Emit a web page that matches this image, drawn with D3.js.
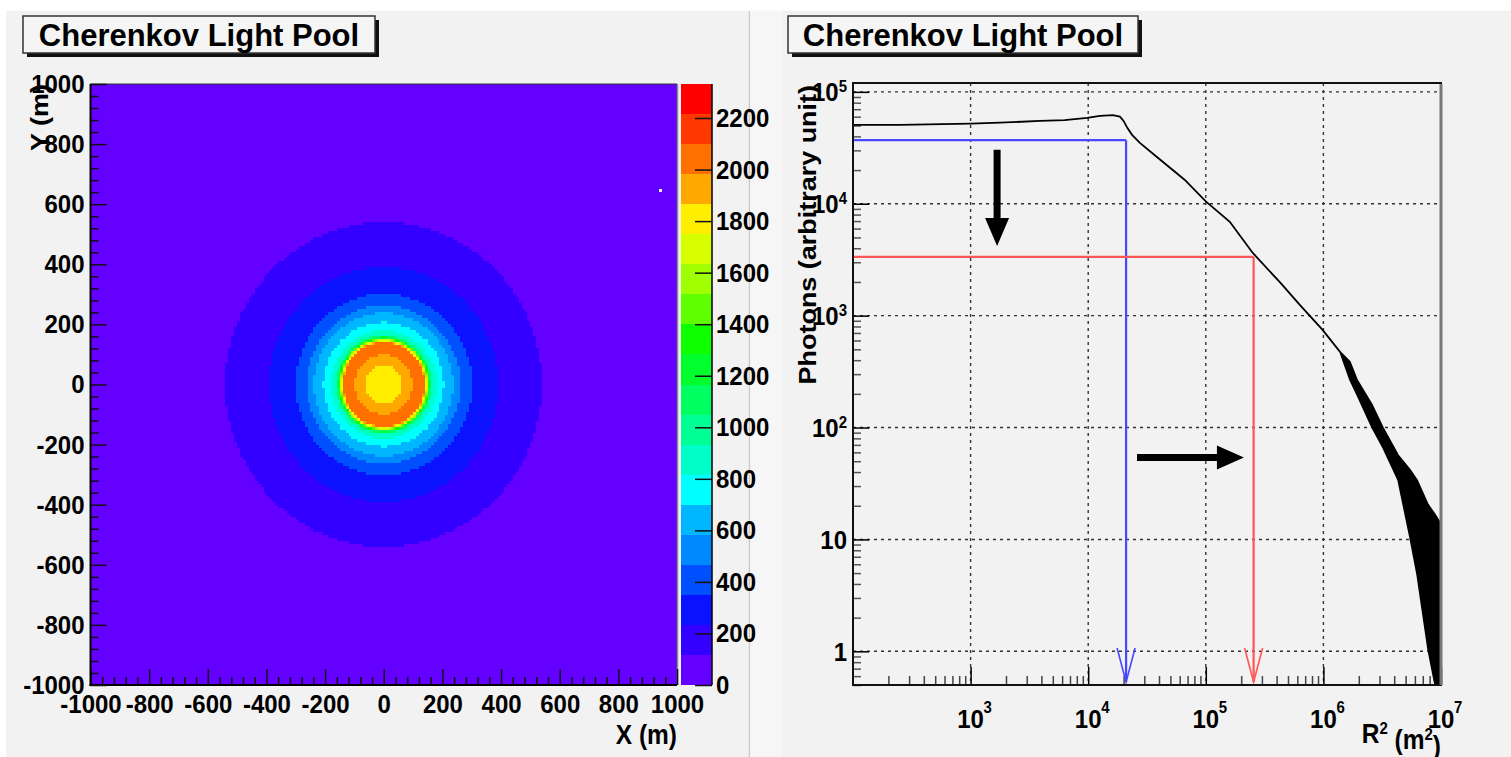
<!DOCTYPE html>
<html>
<head>
<meta charset="utf-8">
<script src="https://cdn.jsdelivr.net/npm/d3@7"></script>
<style>
  html, body { margin: 0; padding: 0; background: #fff; }
  svg text { font-family: "Liberation Sans", Arial, Helvetica, sans-serif; font-weight: bold; fill: #000; }
</style>
</head>
<body>
<svg id="chart" width="1511" height="757"></svg>
<script>
// ---------------- data ----------------
// Radial profile of the photon map (counts per 10 m x 10 m bin vs. distance from core, m)
const mapRadius = [0, 40, 80, 100, 120, 135, 142, 150, 157, 165, 185, 205, 235, 260, 300, 390, 455, 540, 650, 800, 1000, 1420];
const mapCounts = [1800, 1820, 1900, 2000, 2080, 2050, 1850, 1450, 1100, 900, 780, 700, 590, 470, 350, 233, 170, 116, 70, 45, 30, 15];
// Bins with no photons (x, y in m)
const emptyBinX = [945];
const emptyBinY = [645];
// Colour-scale contours
const zMax = 2332;
const zLevels = 20;
const zTicks = [0, 200, 400, 600, 800, 1000, 1200, 1400, 1600, 1800, 2000, 2200];
const xyTicks = [-1000, -800, -600, -400, -200, 0, 200, 400, 600, 800, 1000];

// Photon density vs. R^2 (smooth part)
const curveR2 = [100, 251, 1000, 1780, 3900, 6300, 9800, 12600, 16200, 18600, 20000, 21500, 23600, 27500, 41000, 66000, 100000, 160000, 250000, 430000, 630000, 980000, 1380000];
const curveP  = [50700, 50700, 52000, 53000, 55000, 56000, 58600, 61000, 62000, 60000, 55000, 47700, 41300, 35000, 24700, 16400, 10500, 6900, 3650, 1970, 1250, 750, 477];
// Fluctuating tail: lower / upper envelope
const tailR2 = [1380000, 1680000, 1930000, 2590000, 3210000, 4310000, 5450000, 6250000, 7760000, 8900000, 9800000];
const tailHi = [477, 388, 268, 160, 100, 57, 42, 34, 20.5, 16.7, 14.2];
const tailLo = [477, 268, 197, 100, 66, 34, 10.4, 4.9, 1.04, 0.5, 0.5];
// Reference levels (R^2, photons): core edge and pool edge
const markerR2 = [21000, 255000];
const markerP = [37000, 3350];
// Annotation arrows
const downArrowR2 = 1680, downArrowP = [30400, 4200];
const rightArrowP = 54, rightArrowR2 = [26000, 211000];
const decadesX = [1e3, 1e4, 1e5, 1e6, 1e7];
const decadesY = [1, 10, 100, 1e3, 1e4, 1e5];

// ---------------- drawing ----------------
const W = 1511, H = 757;
const svg = d3.select("#chart");
const FONT_TICK = "24px", FONT_TITLE = "24.5px", FONT_EXP = "15px";
const STRETCH = 1.1;   // glyphs are drawn slightly tall

svg.append("rect").attr("width", W).attr("height", H).attr("fill", "#fff");
svg.append("rect").attr("x", 6).attr("y", 10).attr("width", 743).attr("height", H - 10).attr("fill", "#f2f2f2");
svg.append("rect").attr("x", 751).attr("y", 10).attr("width", W - 751).attr("height", H - 10).attr("fill", "#f2f2f2");
svg.append("rect").attr("x", 751).attr("y", 10).attr("width", 31).attr("height", H - 10).attr("fill", "#f6f6f6");
svg.append("line").attr("x1", 749.5).attr("x2", 749.5).attr("y1", 10).attr("y2", H).attr("stroke", "#c9c9c9").attr("stroke-width", 1.5);
svg.append("line").attr("x1", 6).attr("x2", W).attr("y1", 10.5).attr("y2", 10.5).attr("stroke", "#fafafa");

// horizontal text placed at (x, y) with tall glyphs
function label(x, y, anchor, size) {
  return svg.append("text").attr("transform", `translate(${x},${y}) scale(1,${STRETCH})`)
    .attr("text-anchor", anchor).style("font-size", size);
}
// vertical (rotated) axis title, end of text at (x, y)
function vlabel(x, y, size, txt) {
  return svg.append("text").attr("transform", `translate(${x},${y}) rotate(-90) scale(${STRETCH},1)`)
    .attr("text-anchor", "end").style("font-size", size).text(txt);
}
const tallTicks = g => g.selectAll("text").style("font-size", FONT_TICK).attr("fill", "#000")
  .attr("font-family", null).attr("transform", `scale(1,${STRETCH})`);

function titleBox(x, y, w, h, txt) {
  const g = svg.append("g");
  g.append("rect").attr("x", x + 4).attr("y", y + 4).attr("width", w).attr("height", h).attr("fill", "#111");
  g.append("rect").attr("x", x).attr("y", y).attr("width", w).attr("height", h)
    .attr("fill", "#f5f5f5").attr("stroke", "#333").attr("stroke-width", 1.5);
  g.append("text").attr("x", x + w / 2).attr("y", y + h / 2).attr("dy", "0.36em")
    .attr("text-anchor", "middle").style("font-size", "31px").text(txt);
}

// ======== left: 2D photon map ========
const L = { x0: 90.5, x1: 677, y0: 84, y1: 685 };
const xL = d3.scaleLinear().domain([-1000, 1000]).range([L.x0, L.x1]);
const yL = d3.scaleLinear().domain([-1000, 1000]).range([L.y1, L.y0]);
const bandColors = ["#6400ff", "#3300ff", "#0a12ff", "#0050ff", "#0088ff", "#00b6ff", "#00ffff", "#00ffc8",
  "#00ff94", "#00ff60", "#00ff2c", "#10ff00", "#60ff00", "#a0ff00", "#d8ff00", "#ffee00",
  "#ffa800", "#ff7000", "#ff3800", "#ff0000"];
const zStep = zMax / zLevels;
const zColor = d3.scaleQuantize().domain([0, zMax]).range(bandColors);
const profile = d3.scaleLinear().domain(mapRadius).range(mapCounts).clamp(true);

const nBins = 200;
const edges = d3.range(nBins + 1).map(i => -1000 + i * 2000 / nBins);
const bandOf = (i, j) => {
  const xc = (edges[i] + edges[i + 1]) / 2, yc = (edges[j] + edges[j + 1]) / 2;
  const v = profile(Math.hypot(xc, yc));
  return Math.min(zLevels - 1, Math.floor(v / zStep));
};
const runs = [];
for (let j = 0; j < nBins; j++) {
  let start = 0, cur = bandOf(0, j);
  for (let i = 1; i <= nBins; i++) {
    const b = i < nBins ? bandOf(i, j) : -1;
    if (b !== cur) {
      runs.push({ x0: edges[start], x1: edges[i], y0: edges[j], y1: edges[j + 1], v: (cur + 0.5) * zStep });
      start = i; cur = b;
    }
  }
}
const heat = svg.append("g").attr("shape-rendering", "crispEdges");
heat.selectAll("rect").data(runs).join("rect")
  .attr("x", d => xL(d.x0)).attr("width", d => xL(d.x1) - xL(d.x0))
  .attr("y", d => yL(d.y1)).attr("height", d => yL(d.y0) - yL(d.y1))
  .attr("fill", d => zColor(d.v));
heat.selectAll("rect.empty").data(emptyBinX.map((x, i) => [x, emptyBinY[i]])).join("rect").attr("class", "empty")
  .attr("x", d => xL(d[0] - 5)).attr("width", xL(10) - xL(0))
  .attr("y", d => yL(d[1] + 5)).attr("height", yL(0) - yL(10))
  .attr("fill", "#f4f0ff");

// frame
svg.append("line").attr("x1", L.x0).attr("x2", L.x1).attr("y1", L.y0).attr("y2", L.y0).attr("stroke", "#333").attr("stroke-width", 1);
svg.append("line").attr("x1", L.x1 + 0.5).attr("x2", L.x1 + 0.5).attr("y1", L.y0).attr("y2", L.y1).attr("stroke", "#888").attr("stroke-width", 1.5);

const minorXY = d3.range(-1000, 1001, 40).filter(v => v % 200 !== 0);
const noDomain = g => g.select(".domain").remove();
const styleTicks = (g, w, c) => g.selectAll(".tick line").attr("stroke", c).attr("stroke-width", w);

// x axis
const gxL = svg.append("g").attr("transform", `translate(0,${L.y1})`);
gxL.append("g").call(d3.axisBottom(xL).tickValues(minorXY).tickSize(-8).tickFormat(""))
  .call(noDomain).call(g => styleTicks(g, 1.5, "#111"));
gxL.append("g").call(d3.axisBottom(xL).tickValues(xyTicks).tickSize(-16).tickPadding(8).tickFormat(d => String(d)))
  .call(noDomain).call(g => styleTicks(g, 1.5, "#111")).call(tallTicks);
svg.append("line").attr("x1", L.x0 - 1).attr("x2", L.x1).attr("y1", L.y1).attr("y2", L.y1).attr("stroke", "#000").attr("stroke-width", 2);

// y axis
const gyL = svg.append("g").attr("transform", `translate(${L.x0},0)`);
gyL.append("g").call(d3.axisLeft(yL).tickValues(minorXY).tickSize(-8).tickFormat(""))
  .call(noDomain).call(g => styleTicks(g, 1.5, "#111"));
gyL.append("g").call(d3.axisLeft(yL).tickValues(xyTicks).tickSize(-16).tickPadding(6).tickFormat(d => String(d)))
  .call(noDomain).call(g => styleTicks(g, 1.5, "#111")).call(tallTicks);
svg.append("line").attr("x1", L.x0).attr("x2", L.x0).attr("y1", L.y0).attr("y2", L.y1 + 1).attr("stroke", "#000").attr("stroke-width", 2);

label(L.x1, 744, "end", FONT_TITLE).text("X (m)");
vlabel(48, L.y0, FONT_TITLE, "Y (m)");

// colour bar
const CB = { x0: 680.5, x1: 712 };
const zY = d3.scaleLinear().domain([0, zMax]).range([L.y1, L.y0]);
svg.append("g").attr("shape-rendering", "crispEdges").selectAll("rect").data(d3.range(zLevels)).join("rect")
  .attr("x", CB.x0).attr("width", CB.x1 - CB.x0)
  .attr("y", k => zY((k + 1) * zStep)).attr("height", k => zY(k * zStep) - zY((k + 1) * zStep))
  .attr("fill", k => zColor((k + 0.5) * zStep));
svg.append("g").attr("transform", `translate(${CB.x1},0)`)
  .call(d3.axisRight(zY).tickValues(zTicks).tickSize(-17).tickPadding(4).tickFormat(d => String(d)))
  .call(noDomain).call(g => styleTicks(g, 1.5, "#111")).call(tallTicks);
svg.append("line").attr("x1", CB.x1).attr("x2", CB.x1).attr("y1", L.y0).attr("y2", L.y1).attr("stroke", "#000").attr("stroke-width", 1.5);

titleBox(23, 16, 352, 37, "Cherenkov Light Pool");

// ======== right: photon density vs R^2 ========
const R = { x0: 853, x1: 1441, y0: 83, y1: 685 };
const xR = d3.scaleLog().domain([100, 1e7]).range([R.x0, R.x1]);
const yR = d3.scaleLog().domain([0.5, 1.2e5]).range([R.y1, R.y0]);

const gridStyle = sel => sel.attr("stroke", "#333").attr("stroke-width", 1.4).attr("stroke-dasharray", "3,4");
svg.append("g").selectAll("line").data(decadesX.slice(0, -1)).join("line")
  .attr("x1", d => xR(d)).attr("x2", d => xR(d)).attr("y1", R.y0).attr("y2", R.y1).call(gridStyle);
svg.append("g").selectAll("line").data(decadesY).join("line")
  .attr("x1", R.x0).attr("x2", R.x1).attr("y1", d => yR(d)).attr("y2", d => yR(d)).call(gridStyle);

const minorsOf = (lo, hi) => {
  const out = [];
  for (let e = Math.floor(Math.log10(lo)); e <= Math.ceil(Math.log10(hi)); e++)
    for (let m = 2; m <= 9; m++) { const v = m * Math.pow(10, e); if (v >= lo && v <= hi) out.push(v); }
  return out;
};
// ticks
svg.append("g").attr("transform", `translate(0,${R.y1})`)
  .call(d3.axisBottom(xR).tickValues(minorsOf(100, 1e7)).tickSize(-9).tickFormat(""))
  .call(noDomain).call(g => styleTicks(g, 1.5, "#444"));
svg.append("g").attr("transform", `translate(0,${R.y1})`)
  .call(d3.axisBottom(xR).tickValues(decadesX).tickSize(-18).tickFormat(""))
  .call(noDomain).call(g => styleTicks(g, 1.5, "#000"));
svg.append("g").attr("transform", `translate(${R.x0},0)`)
  .call(d3.axisLeft(yR).tickValues(minorsOf(0.5, 1.2e5)).tickSize(-8).tickFormat(""))
  .call(noDomain).call(g => styleTicks(g, 1.5, "#555"));
svg.append("g").attr("transform", `translate(${R.x0},0)`)
  .call(d3.axisLeft(yR).tickValues(decadesY).tickSize(-16).tickFormat(""))
  .call(noDomain).call(g => styleTicks(g, 1.5, "#000"));

// curve and fluctuating tail
const clip = svg.append("clipPath").attr("id", "rclip");
clip.append("rect").attr("x", R.x0).attr("y", R.y0).attr("width", R.x1 - R.x0).attr("height", R.y1 - R.y0);
const plot = svg.append("g").attr("clip-path", "url(#rclip)");
plot.append("path").datum(curveR2.map((r, i) => [r, curveP[i]]))
  .attr("d", d3.line().x(d => xR(d[0])).y(d => yR(d[1])))
  .attr("fill", "none").attr("stroke", "#000").attr("stroke-width", 1.8);
plot.append("path").datum(tailR2.map((r, i) => [r, tailLo[i], tailHi[i]]))
  .attr("d", d3.area().x(d => xR(d[0])).y0(d => yR(d[1])).y1(d => yR(d[2])))
  .attr("fill", "#000").attr("stroke", "#000").attr("stroke-width", 1.5);

// reference levels with arrows to the R^2 axis
const markerColors = ["#4848ff", "#ff5656"];
markerR2.forEach((r2, i) => {
  const c = markerColors[i], x = xR(r2), y = yR(markerP[i]), tip = R.y1 - 3;
  const g = svg.append("g").attr("stroke", c).attr("stroke-width", 2.2).attr("fill", "none");
  g.append("line").attr("x1", R.x0).attr("x2", x).attr("y1", y).attr("y2", y);
  g.append("line").attr("x1", x).attr("x2", x).attr("y1", y).attr("y2", tip);
  g.append("path").attr("d", `M${x - 9},${tip - 34}L${x},${tip}L${x + 9},${tip - 34}`).attr("stroke-width", 1.6);
});

// black annotation arrows
{
  const x = xR(downArrowR2), ya = yR(downArrowP[0]), yb = yR(downArrowP[1]);
  svg.append("path").attr("fill", "#000")
    .attr("d", `M${x - 3.5},${ya}H${x + 3.5}V${yb - 28}H${x + 12}L${x},${yb}L${x - 12},${yb - 28}H${x - 3.5}Z`);
  const y = yR(rightArrowP), xa = xR(rightArrowR2[0]), xb = xR(rightArrowR2[1]);
  svg.append("path").attr("fill", "#000")
    .attr("d", `M${xa},${y - 3.5}H${xb - 27}V${y - 12}L${xb},${y}L${xb - 27},${y + 12}V${y + 3.5}H${xa}Z`);
}

// frame
svg.append("rect").attr("x", R.x0).attr("y", R.y0).attr("width", R.x1 - R.x0).attr("height", R.y1 - R.y0)
  .attr("fill", "none").attr("stroke", "#111").attr("stroke-width", 2);
svg.append("line").attr("x1", R.x1).attr("x2", R.x1).attr("y1", R.y0 + 1).attr("y2", R.y1).attr("stroke", "#777").attr("stroke-width", 3);

// tick labels with powers of ten
decadesX.forEach(v => {
  const x = xR(v), e = Math.round(Math.log10(v));
  label(x, 728, "middle", FONT_TICK).text("10");
  label(x + 13, 713, "start", FONT_EXP).text(String(e));
});
decadesY.forEach(v => {
  const e = Math.round(Math.log10(v));
  const t = label(847, yR(v), "end", FONT_TICK).attr("dy", "0.36em");
  if (e <= 1) t.text(String(v));
  else { t.append("tspan").text("10"); t.append("tspan").attr("dy", "-0.55em").style("font-size", FONT_EXP).text(String(e)); }
});

// axis titles
{
  const t = label(R.x1, 743, "end", FONT_TITLE);
  t.append("tspan").text("R");
  t.append("tspan").attr("dy", "-0.55em").style("font-size", FONT_EXP).text("2");
  t.append("tspan").attr("dy", "0.55em").text(" (m");
  t.append("tspan").attr("dy", "-0.55em").style("font-size", FONT_EXP).text("2");
  t.append("tspan").attr("dy", "0.55em").text(")");
}
vlabel(816, R.y0 + 2, FONT_TITLE, "Photons (arbitrary unit)");

titleBox(788, 16, 350, 37, "Cherenkov Light Pool");
</script>
</body>
</html>
